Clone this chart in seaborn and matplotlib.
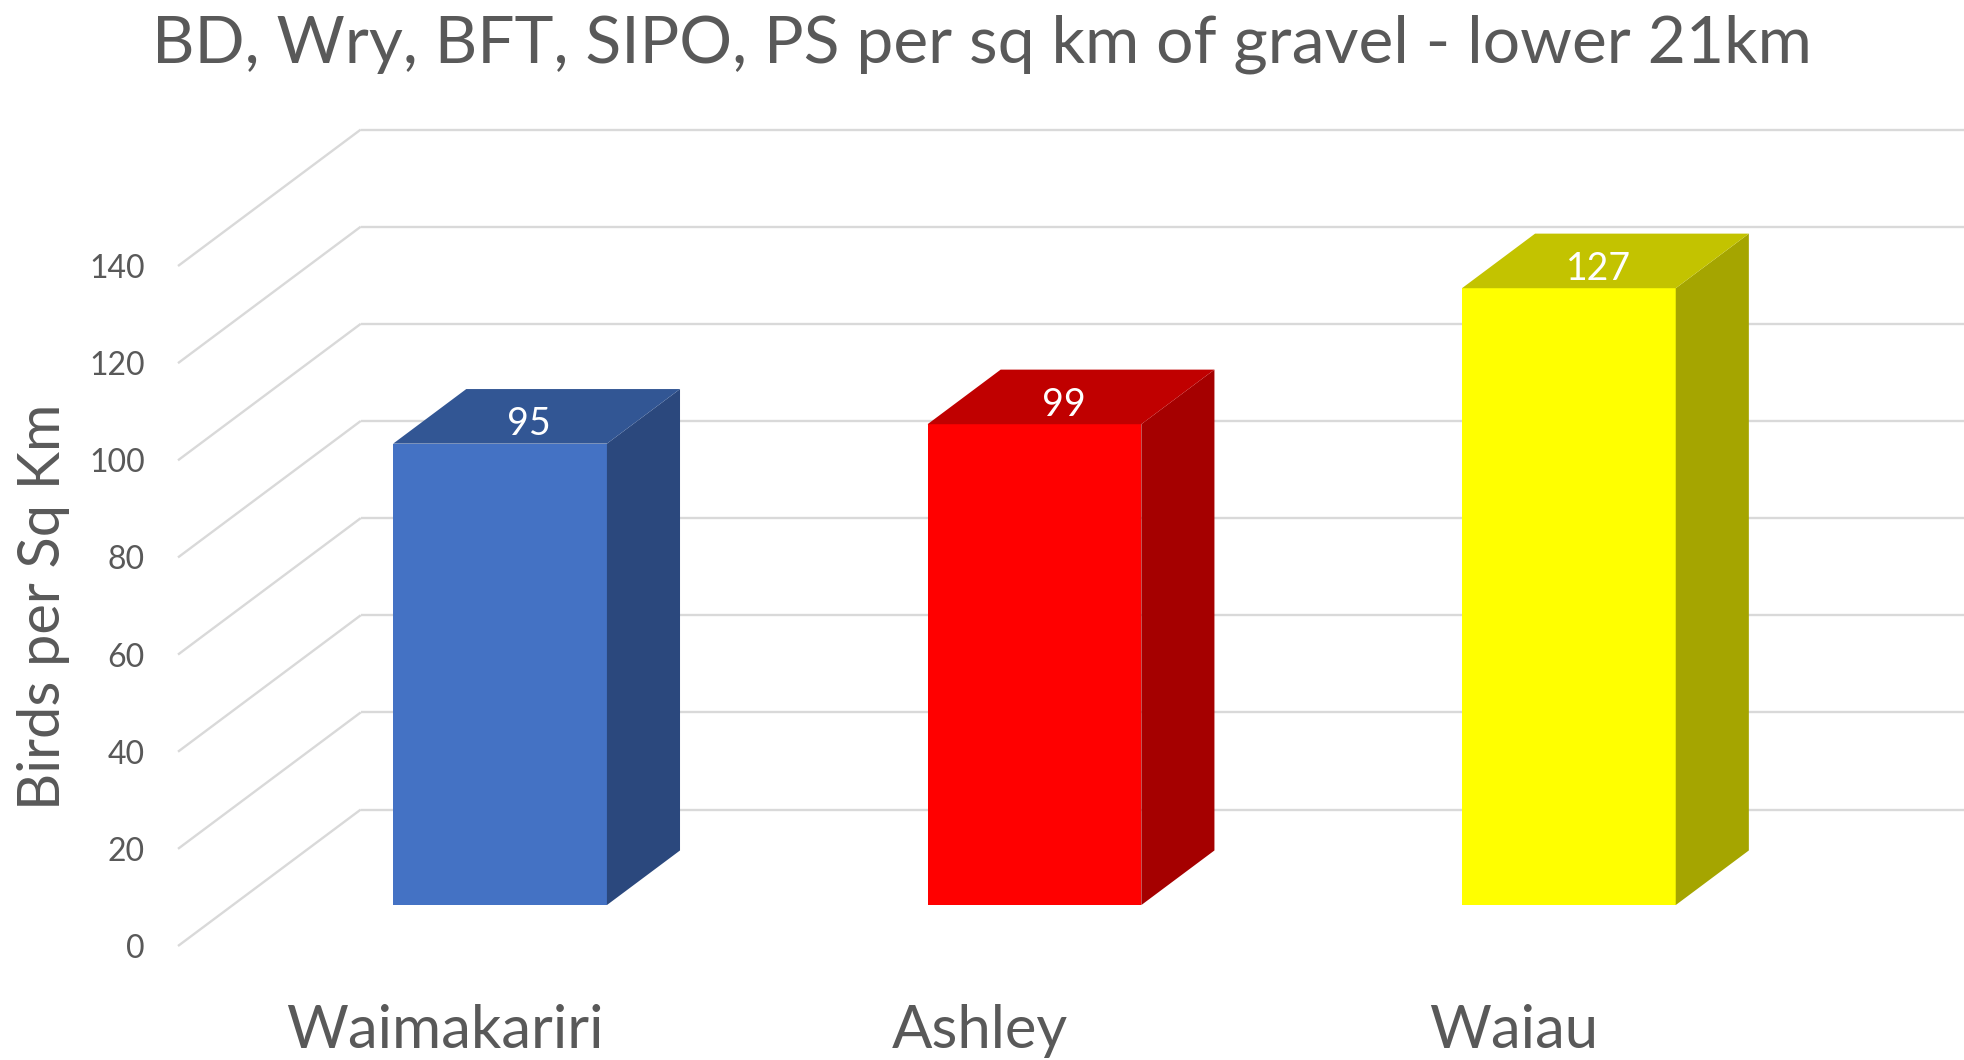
import matplotlib
matplotlib.use("Agg")
import matplotlib.pyplot as plt
import seaborn as sns
from matplotlib.patches import Polygon

# dados do gráfico
rios = ["Waimakariri", "Ashley", "Waiau"]
aves_por_km2 = [95, 99, 127]
cores_frente = ["#4472C4", "#FF0000", "#FFFF00"]
cores_topo = ["#325694", "#C00000", "#C3C300"]
cores_lado = ["#2B487D", "#A50000", "#A5A500"]
ticks_y = [0, 20, 40, 60, 80, 100, 120, 140]

titulo = "BD, Wry, BFT, SIPO, PS per sq km of gravel - lower 21km"
rotulo_y = "Birds per Sq Km"

# geometria do "3D" (profundidade em unidades de dados)
PROF_X = 0.342      # deslocamento horizontal da parede do fundo
PROF_Y = 28.1       # deslocamento vertical da parede do fundo
INICIO_BARRA = 0.3  # fração de profundidade onde começa a barra
LARG_PROF = 0.4     # profundidade da barra

cinza = "#595959"
grade = "#D9D9D9"
fonte = ["Lato", "DejaVu Sans"]

sns.set_theme(style="white")
plt.rcParams["font.family"] = fonte

W, H = 1964, 1060
fig = plt.figure(figsize=(W / 100, H / 100), dpi=100)
ymax = 170
px_por_unid = 4.857
ax = fig.add_axes([178 / W, 1 - 946 / H, 1 - 178 / W, ymax * px_por_unid / H])

sns.barplot(x=rios, y=aves_por_km2, hue=rios, palette=cores_frente,
            width=0.4, saturation=1, legend=False, ax=ax, zorder=3)

ax.set_xlim(-0.5, 2.5 + PROF_X)
ax.set_ylim(0, ymax)

# linhas de grade: parede lateral (diagonal) e parede do fundo (horizontal)
x_esq = -0.5
x_dir = 2.5
for v in ticks_y:
    ax.plot([x_esq, x_esq + PROF_X], [v, v + PROF_Y], color=grade, lw=1.7,
            zorder=1, clip_on=False, solid_capstyle="butt")
    ax.plot([x_esq + PROF_X, x_dir + PROF_X], [v + PROF_Y, v + PROF_Y],
            color=grade, lw=1.7, zorder=1, clip_on=False, solid_capstyle="butt")

# desloca as faces frontais e desenha topo e lateral
dx0, dy0 = INICIO_BARRA * PROF_X, INICIO_BARRA * PROF_Y
dx, dy = LARG_PROF * PROF_X, LARG_PROF * PROF_Y
for i, barra in enumerate(ax.patches):
    barra.set_x(barra.get_x() + dx0)
    barra.set_y(barra.get_y() + dy0)
    barra.set_edgecolor("none")
    x0 = barra.get_x()
    x1 = x0 + barra.get_width()
    y0 = barra.get_y()
    y1 = y0 + barra.get_height()
    lado = Polygon([(x1, y0), (x1 + dx, y0 + dy), (x1 + dx, y1 + dy), (x1, y1)],
                   closed=True, facecolor=cores_lado[i], edgecolor="none", zorder=3)
    topo = Polygon([(x0, y1), (x1, y1), (x1 + dx, y1 + dy), (x0 + dx, y1 + dy)],
                   closed=True, facecolor=cores_topo[i], edgecolor="none", zorder=3)
    ax.add_patch(lado)
    ax.add_patch(topo)
    ax.text((x0 + x1) / 2 + 0.4 * dx, y1 + 0.36 * dy, str(aves_por_km2[i]),
            color="white", fontsize=27, ha="center", va="center", zorder=4)

ax.set_yticks(ticks_y)
ax.set_yticklabels([str(v) for v in ticks_y])
ax.tick_params(axis="y", length=0, pad=24, labelsize=23, labelcolor=cinza)
ax.tick_params(axis="x", length=0, pad=42, labelsize=43, labelcolor=cinza)
ax.set_xlabel("")
ax.set_ylabel("")
for s in ax.spines.values():
    s.set_visible(False)
ax.patch.set_alpha(0)

fig.text(0.5, 1 - 63 / H, titulo, ha="center", va="baseline",
         fontsize=47.5, color=cinza)
fig.text(44 / W, 1 - 607 / H, rotulo_y, ha="center", va="center",
         rotation=90, fontsize=41.5, color=cinza)

fig.savefig("out.png", dpi=100, facecolor="white")
